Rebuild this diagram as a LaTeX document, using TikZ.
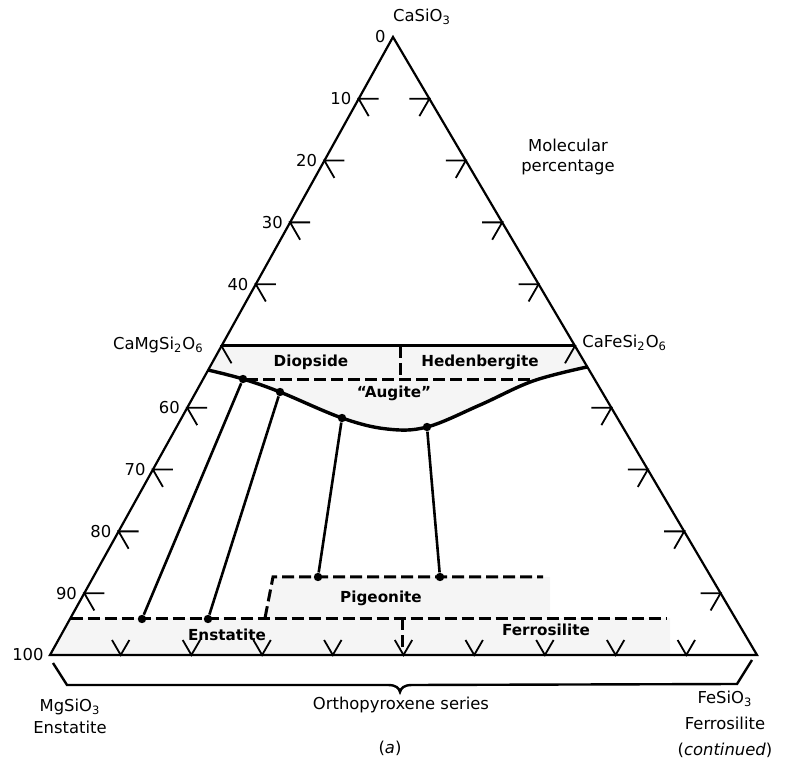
\documentclass[tikz,border=0pt]{standalone}
\usepackage{fontspec}
\setmainfont{DejaVu Sans}
\tikzset{
  side/.style={line width=1.1pt},
  tickmark/.style={line width=0.9pt},
  bound/.style={line width=1.5pt, dash pattern=on 6pt off 2.5pt},
  phase/.style={font=\fontsize{7.6}{9}\selectfont\bfseries},
  dot/.style={circle, fill=black, inner sep=0pt, minimum size=4.2pt},
  stipple/.style={fill=black!4}
}
\begin{document}
\begin{tikzpicture}[x=0.5pt, y=-0.5pt, font=\fontsize{8.2}{10}\selectfont]
\useasboundingbox (0,0) rectangle (799,759);
% stippled fields
\fill[stipple] (221.5,346) -- (575,346) -- (587,367) -- plot[smooth, tension=0.6] coordinates {(587,367) (533,381) (480,405) (427,427) (387,429) (342,418) (280,392) (243,379) (208,370)} -- cycle;
\fill[stipple] (265,618) -- (273,577) -- (550,577) -- (550,618) -- cycle;
\fill[stipple] (70.5,618) -- (670,618) -- (670,655) -- (50,655) -- cycle;
% triangle
\coordinate (Mg) at (50,655);
\coordinate (Ca) at (393,37);
\coordinate (Fe) at (757,655);
\draw[side] (Mg) -- (Ca) -- (Fe) -- cycle;
% scale marks
\foreach \t in {1,...,9} {
  \draw[tickmark] ({393-34.3*\t+20},{37+61.8*\t}) -- ++(-20,0) -- ++(10,17.3);
  \draw[tickmark] ({393+36.4*\t-20},{37+61.8*\t}) -- ++(20,0) -- ++(-10,17.3);
  \draw[tickmark] ({50+70.7*\t-8.7},640) -- ++(8.7,15) -- ++(8.7,-15);
}
\foreach \t in {1,2,3,4,6,7,8,9}
  \node[anchor=east, inner sep=0pt] (pc\t) at ({393-34.3*\t-7},{37+61.8*\t}) {\t0};
\node[anchor=east, inner sep=0pt] (pc0) at (386,37) {0};
\node[anchor=east, inner sep=0pt] (pc10) at (44,655) {100};
% Ca-rich fields
\draw[line width=1.5pt] (221.5,346) -- (575,346);
\draw[bound] (400,346) -- (400,380);
\draw[bound] (246,380) -- (535,380);
\draw[line width=1.7pt] plot[smooth, tension=0.6] coordinates {(208,370) (243,379) (280,392) (342,418) (387,429) (427,427) (480,405) (533,381) (587,367)};
% tie lines
\node[dot] (aug1) at (243,379) {};
\node[dot] (aug2) at (280,392) {};
\node[dot] (aug3) at (342,418) {};
\node[dot] (aug4) at (427,427) {};
\node[dot] (en1) at (142,619) {};
\node[dot] (en2) at (208,619) {};
\node[dot] (pg1) at (318,577) {};
\node[dot] (pg2) at (440,577) {};
\draw[line width=1.3pt] (aug1) -- (en1);
\draw[line width=1.3pt] (aug2) -- (en2);
\draw[line width=1.3pt] (aug3) -- (pg1);
\draw[line width=1.3pt] (aug4) -- (pg2);
% Ca-poor fields
\draw[bound] (265,618) -- (273,577) -- (543,577);
\draw[bound] (70.5,618) -- (667,618);
\draw[bound] (402,618) -- (402,652);
% brace
\draw[line width=1.2pt] (53,663) -- (67,685) -- (388,685) .. controls (396,685) and (399,688) .. (400,692) .. controls (401,688) and (404,685) .. (412,685) -- (737,684) -- (752,660);
% labels
\node (casio) at (422,17) {CaSiO\textsubscript{3}};
\node[align=center] (molpc) at (568,157) {Molecular\\percentage};
\node[anchor=east, inner sep=1pt] (diop) at (206,345) {CaMgSi\textsubscript{2}O\textsubscript{6}};
\node[anchor=west, inner sep=1pt] (hed) at (580,343) {CaFeSi\textsubscript{2}O\textsubscript{6}};
\node[phase] (ldiop) at (311,362) {Diopside};
\node[phase] (lhed) at (480,362) {Hedenbergite};
\node[phase] (laug) at (394,393) {``Augite''};
\node[phase] (lpig) at (381,598) {Pigeonite};
\node[phase] (lens) at (227,635) {Enstatite};
\node[phase] (lfer) at (546,630) {Ferrosilite};
\node (opx) at (401,705) {Orthopyroxene series};
\node[align=center, font=\fontsize{8.2}{11}\selectfont] (mgsio) at (70,716) {MgSiO\textsubscript{3}\\Enstatite};
\node[align=center, font=\fontsize{8.2}{13}\selectfont] (fesio) at (725,724) {FeSiO\textsubscript{3}\\Ferrosilite\\(\textit{continued})};
\node (parta) at (390,748) {(\textit{a})};
\end{tikzpicture}
\end{document}
